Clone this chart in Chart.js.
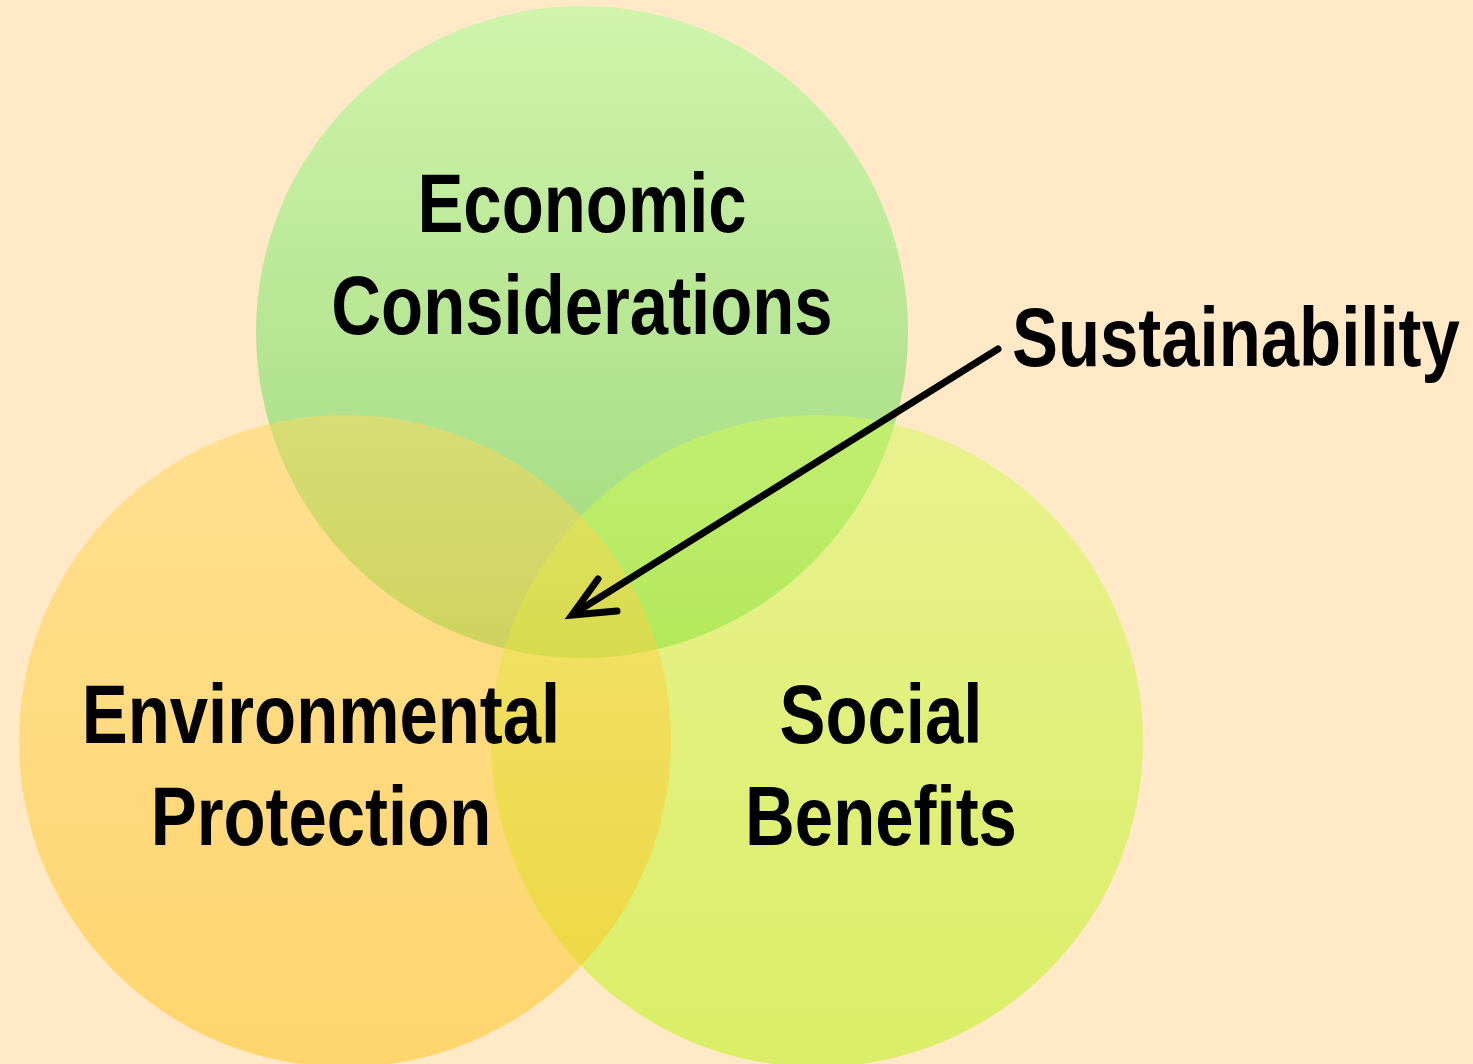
<!DOCTYPE html>
<html>
<head>
<meta charset="utf-8">
<script src="https://cdn.jsdelivr.net/npm/chart.js@4.4.1/dist/chart.umd.min.js"></script>
<style>
  html, body { margin: 0; padding: 0; background: #FFE9C6; }
  #wrap { width: 1473px; height: 1064px; }
</style>
</head>
<body>
<div id="wrap"><canvas id="venn" width="1473" height="1064"></canvas></div>
<script>
// sets, in drawing order (top circle first, left circle last)
const categories = ['Economic Considerations', 'Social Benefits', 'Environmental Protection'];
const labelLines = [['Economic', 'Considerations'], ['Social', 'Benefits'], ['Environmental', 'Protection']];
const centerX = [582, 817, 345];
const centerY = [332, 741, 741];
const setSize = [1, 1, 1];
const calloutText = 'Sustainability';

const R = 326;
const BG = '#FFE9C6';
// gradient stops (top, bottom) for each circle
const fills = [
  ['rgba(208,244,172,1)', 'rgba(158,216,124,1)'],
  ['rgba(210,251,86,0.5)', 'rgba(182,243,10,0.5)'],
  ['rgba(254,215,92,0.5)', 'rgba(255,192,20,0.5)']
];
// label offsets from circle centre: dx, baseline of first line
const labelOffset = [[0, -100], [64, 2], [-24, 2]];

function pickFont() {
  const c = document.createElement('canvas').getContext('2d');
  c.font = 'bold 84px monospace';
  const w0 = c.measureText('Sustainability').width;
  c.font = 'bold 84px "Liberation Sans Narrow", monospace';
  const w1 = c.measureText('Sustainability').width;
  return w0 !== w1 ? { family: '"Liberation Sans Narrow"', sx: 1 } : { family: '"Liberation Sans"', sx: 0.82 };
}
const FONT = pickFont();

function fillText(ctx, txt, x, y, align) {
  ctx.save();
  ctx.translate(x, y);
  ctx.scale(FONT.sx, 1);
  ctx.textAlign = align;
  ctx.fillText(txt, 0, 0);
  ctx.restore();
}

const background = {
  id: 'background',
  beforeDraw(chart) {
    const ctx = chart.ctx;
    ctx.save();
    ctx.fillStyle = BG;
    ctx.fillRect(0, 0, chart.width, chart.height);
    ctx.restore();
  }
};

const labels = {
  id: 'labels',
  afterDatasetsDraw(chart) {
    const ctx = chart.ctx;
    const xs = chart.scales.x, ys = chart.scales.y;
    ctx.save();
    ctx.fillStyle = '#000';
    ctx.font = 'bold 84px ' + FONT.family;
    ctx.textBaseline = 'alphabetic';
    labelLines.forEach((lines, i) => {
      const x = xs.getPixelForValue(centerX[i]) + labelOffset[i][0];
      const y = ys.getPixelForValue(centerY[i]) + labelOffset[i][1];
      lines.forEach((ln, j) => fillText(ctx, ln, x, y + j * 102, 'center'));
    });

    // callout arrow into the common intersection
    const x0 = xs.getPixelForValue(998), y0 = ys.getPixelForValue(349);
    const x1 = xs.getPixelForValue(572), y1 = ys.getPixelForValue(615);
    ctx.strokeStyle = '#000';
    ctx.lineWidth = 7;
    ctx.lineCap = 'round';
    ctx.lineJoin = 'miter';
    ctx.beginPath();
    ctx.moveTo(x0, y0);
    ctx.lineTo(x1 + 6, y1 - 4);
    ctx.stroke();
    ctx.beginPath();
    ctx.moveTo(x1 + 26, y1 - 36);
    ctx.lineTo(x1, y1);
    ctx.lineTo(x1 + 45, y1 - 4);
    ctx.stroke();
    fillText(ctx, calloutText, xs.getPixelForValue(1012), ys.getPixelForValue(366), 'left');
    ctx.restore();
  }
};

function circleFill(context) {
  const chart = context.chart;
  const i = context.dataIndex;
  if (!chart.chartArea || i === undefined) return fills[0][0];
  const cy = chart.scales.y.getPixelForValue(centerY[i]);
  const g = chart.ctx.createLinearGradient(0, cy - R, 0, cy + R);
  g.addColorStop(0, fills[i][0]);
  g.addColorStop(1, fills[i][1]);
  return g;
}

new Chart(document.getElementById('venn'), {
  type: 'bubble',
  data: {
    labels: categories,
    datasets: [{
      label: 'Sets',
      data: categories.map((c, i) => ({ x: centerX[i], y: centerY[i], r: R * setSize[i] })),
      backgroundColor: circleFill,
      borderWidth: 0,
      hoverRadius: 0,
      hoverBorderWidth: 0,
      clip: false
    }]
  },
  options: {
    responsive: false,
    animation: false,
    events: [],
    layout: { padding: 0, autoPadding: false },
    scales: {
      x: { type: 'linear', min: 0, max: 1473, display: false },
      y: { type: 'linear', min: 0, max: 1064, reverse: true, display: false }
    },
    plugins: {
      legend: { display: false },
      tooltip: { enabled: false }
    }
  },
  plugins: [background, labels]
});
</script>
</body>
</html>
